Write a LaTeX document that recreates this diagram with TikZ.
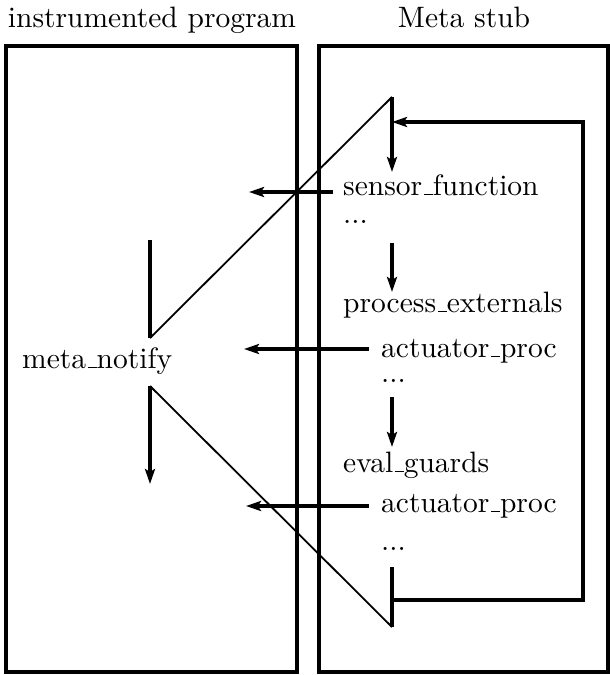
\documentclass[tikz,border=0pt]{standalone}
\usetikzlibrary{arrows.meta}
\font\cmbig="[lmroman10-regular]" at 29.5pt
\newcommand\us{\leavevmode\kern.06em\vbox{\hrule width.3em height 0.045em}}
\begin{document}
\begin{tikzpicture}[x=1pt,y=-1pt,
  lbl/.style={anchor=base west,inner sep=0pt,font=\cmbig},
  ttl/.style={anchor=base,inner sep=0pt,font=\cmbig},
  frame/.style={line width=4pt},
  thick line/.style={line width=4pt},
  thin line/.style={line width=1.8pt},
  arr/.style={line width=4pt,-{Stealth[length=15pt,width=10pt,inset=3pt]}}]
\useasboundingbox (0,0) rectangle (610,675);
% boxes
\node[draw,frame,minimum width=291pt,minimum height=626pt,inner sep=0pt] (prog) at (151,359) {};
\node[draw,frame,minimum width=289pt,minimum height=626pt,inner sep=0pt] (stub) at (463,359) {};
% titles
\node[ttl] (t1) at (152,27) {instrumented program};
\node[ttl] (t2) at (464,27) {Meta stub};
% labels
\node[lbl] (sf) at (343,195) {sensor\us function};
\node[lbl] (d1) at (343,223) {...};
\node[lbl] (pe) at (343,312) {process\us externals};
\node[lbl] (ap1) at (381,357) {actuator\us proc};
\node[lbl] (d2) at (381,382) {...};
\node[lbl] (eg) at (343,472) {eval\us guards};
\node[lbl] (ap2) at (381,512) {actuator\us proc};
\node[lbl] (d3) at (381,550) {...};
\node[lbl] (mn) at (22,368) {meta\us notify};
% coordinates
\coordinate (a0) at (150,240);
\coordinate (a1) at (150,338);
\coordinate (a2) at (392,97);
\coordinate (a3) at (392,172);
\coordinate (b0) at (392,243);
\coordinate (b1) at (392,292);
\coordinate (c0) at (392,397);
\coordinate (c1) at (392,447);
\coordinate (e0) at (392,567);
\coordinate (e1) at (392,627);
\coordinate (e2) at (150,386);
\coordinate (e3) at (150,484);
\coordinate (f0) at (392,600);
\coordinate (f1) at (583,600);
\coordinate (f2) at (583,122);
\coordinate (f3) at (392,122);
\coordinate (h1a) at (333,192);
\coordinate (h1b) at (249,192);
\coordinate (h2a) at (369,349);
\coordinate (h2b) at (244,349);
\coordinate (h3a) at (369,506);
\coordinate (h3b) at (246,506);
% zigzag top
\draw[thick line] (a0) -- (a1);
\draw[thin line] (a1) -- (a2);
\draw[arr] (a2) -- (a3);
\draw[arr] (b0) -- (b1);
\draw[arr] (c0) -- (c1);
\draw[thick line] (e0) -- (e1);
\draw[thin line] (e1) -- (e2);
\draw[arr] (e2) -- (e3);
% loop
\draw[line width=4pt,line join=miter,-{Stealth[length=15pt,width=10pt,inset=3pt]}] (f0) -- (f1) -- (f2) -- (f3);
% horizontal arrows
\draw[arr] (h1a) -- (h1b);
\draw[arr] (h2a) -- (h2b);
\draw[arr] (h3a) -- (h3b);
\end{tikzpicture}
\end{document}
